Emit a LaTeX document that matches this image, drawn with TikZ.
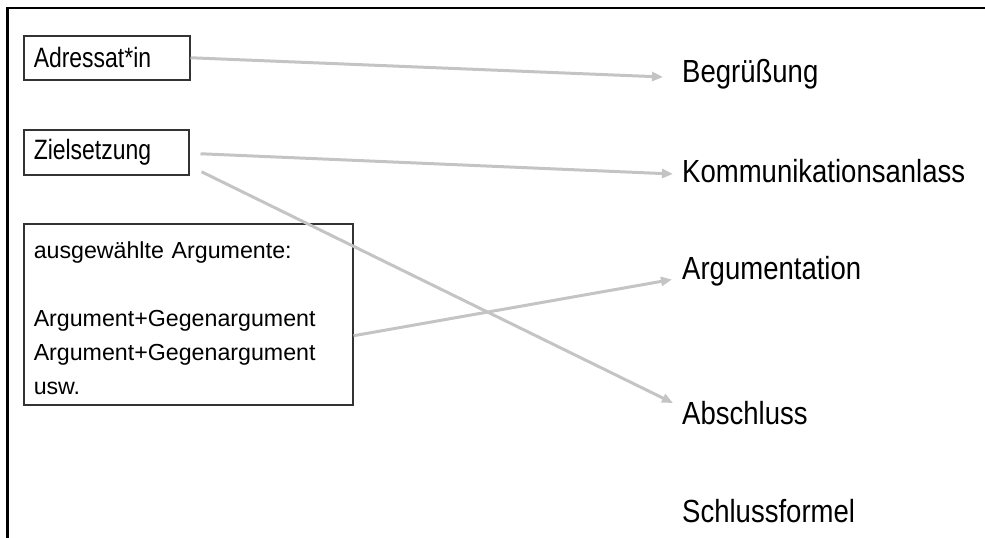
\documentclass[tikz,border=0pt]{standalone}
\usepackage{fontspec}
\setmainfont{Liberation Sans}
\newfontfamily\boxnarrow[FakeStretch=0.82]{Liberation Sans}
\newfontfamily\rightnarrow[FakeStretch=0.86]{Liberation Sans}
\usetikzlibrary{arrows.meta}
\definecolor{conngray}{HTML}{C4C4C4}
\definecolor{boxline}{HTML}{333333}
\begin{document}
\begin{tikzpicture}[x=1pt,y=-1pt,
  smallbox/.style={draw=boxline, line width=1.5pt, anchor=north west, inner xsep=10pt, inner ysep=0pt, align=left,
    font=\boxnarrow\fontsize{28}{30}\selectfont},
  bigbox/.style={draw=boxline, line width=1.5pt, anchor=north west, inner xsep=10pt, inner ysep=0pt, align=left,
    font=\fontsize{23.2}{34}\selectfont},
  parttext/.style={anchor=base west, inner sep=0pt, font=\rightnarrow\fontsize{32}{34}\selectfont},
  conn/.style={draw=conngray, line width=3pt, -{Triangle[length=11pt,width=9pt]}}]
\useasboundingbox (0,0) rectangle (985,538);
% frame (top and left edges)
\draw[line width=2.5pt] (7.5,538) -- (7.5,8) -- (985,8);
% left boxes
\node[smallbox, text width=146pt, minimum height=44pt] (adr) at (23,35) {Adressat*in};
\node[smallbox, text width=145pt, minimum height=45pt] (ziel) at (23,129) {Zielsetzung};
\node[bigbox, text width=309pt, minimum height=181pt] (arg) at (23,223)
  {\rule{0pt}{24pt}ausgewählte Argumente:\\[34pt]Argument+Gegenargument\\Argument+Gegenargument\\usw.};
% right labels
\node[parttext] (beg) at (682,82) {Begrüßung};
\node[parttext] (komm) at (682,182) {Kommunikationsanlass};
\node[parttext] (argu) at (682,279.5) {Argumentation};
\node[parttext] (absch) at (682,424) {Abschluss};
\node[parttext] (schl) at (682,522) {Schlussformel};
% connectors
\draw[conn] (adr.east) -- ([xshift=-19pt,yshift=5pt]beg.base west);
\draw[conn] ([xshift=11pt,yshift=-1.5pt]ziel.east) -- ([xshift=-9pt,yshift=8pt]komm.base west);
\draw[conn] ([xshift=12pt,yshift=-19.5pt]ziel.east) -- ([xshift=-9pt,yshift=21pt]absch.base west);
\draw[conn] ([yshift=-21.5pt]arg.east) -- ([xshift=-10pt,yshift=0pt]argu.base west);
\end{tikzpicture}
\end{document}
